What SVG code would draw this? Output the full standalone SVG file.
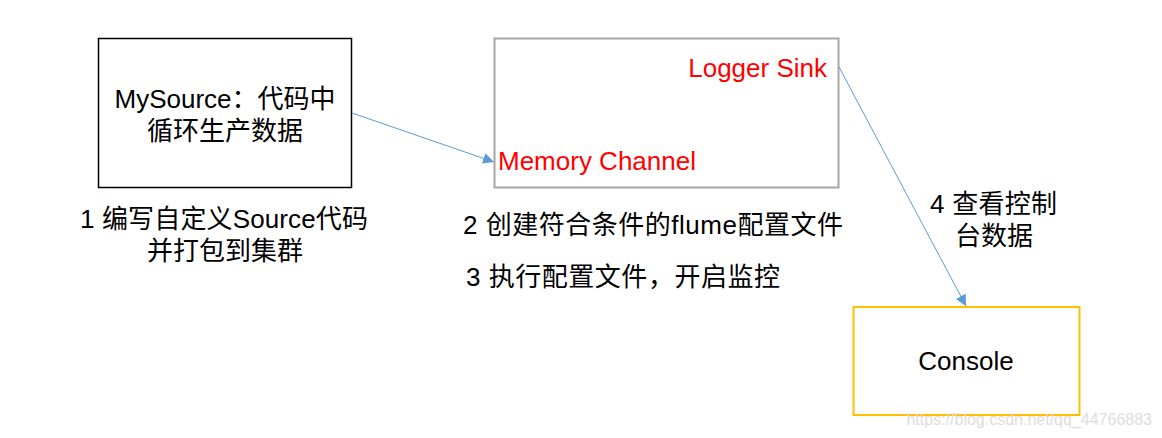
<svg xmlns="http://www.w3.org/2000/svg" width="1162" height="438" viewBox="0 0 1162 438">
<style>
text{font-family:"Liberation Sans","Noto Sans CJK SC",sans-serif;font-size:26px;fill:#000}
.red{fill:#FF0000}
.conn{stroke:#5B9BD5;stroke-width:1;fill:none}
</style>
<defs>
<marker id="arr" viewBox="0 0 10 10" refX="10" refY="5" markerWidth="11" markerHeight="11" markerUnits="userSpaceOnUse" orient="auto">
<path d="M0,0 L10,5 L0,10 z" fill="#5B9BD5"/>
</marker>
</defs>
<rect width="1162" height="438" fill="#fff"/>
<g id="source">
<rect x="98.5" y="38.5" width="253" height="149" fill="#fff" stroke="#000" stroke-width="1.5"/>
<text x="225" y="108" text-anchor="middle">MySource：代码中</text>
<text x="225" y="140" text-anchor="middle">循环生产数据</text>
</g>
<g id="flume">
<rect x="494.5" y="38.5" width="344" height="149" fill="#fff" stroke="#A6A6A6" stroke-width="2"/>
<text class="red" x="827" y="77" text-anchor="end">Logger Sink</text>
<text class="red" x="498" y="170">Memory Channel</text>
</g>
<g id="console">
<rect x="853.5" y="307" width="226" height="108" fill="#fff" stroke="#FFC000" stroke-width="2"/>
<text x="966" y="370" text-anchor="middle">Console</text>
</g>
<g id="connectors">
<line class="conn" x1="352" y1="113" x2="494" y2="162" marker-end="url(#arr)"/>
<line class="conn" x1="839" y1="67" x2="966" y2="306" marker-end="url(#arr)"/>
</g>
<g id="labels">
<text x="80" y="228" textLength="288" lengthAdjust="spacing">1 编写自定义Source代码</text>
<text x="225" y="260" text-anchor="middle">并打包到集群</text>
<text x="463" y="234" textLength="380" lengthAdjust="spacing">2 创建符合条件的flume配置文件</text>
<text x="466" y="286" textLength="314" lengthAdjust="spacing">3 执行配置文件，开启监控</text>
<text x="930" y="213" textLength="127" lengthAdjust="spacing">4 查看控制</text>
<text x="994" y="245" text-anchor="middle">台数据</text>
</g>
<text x="1152" y="425" text-anchor="end" style="font-size:16px;fill:#DDDDDD">https://blog.csdn.net/qq_44766883</text>
</svg>
